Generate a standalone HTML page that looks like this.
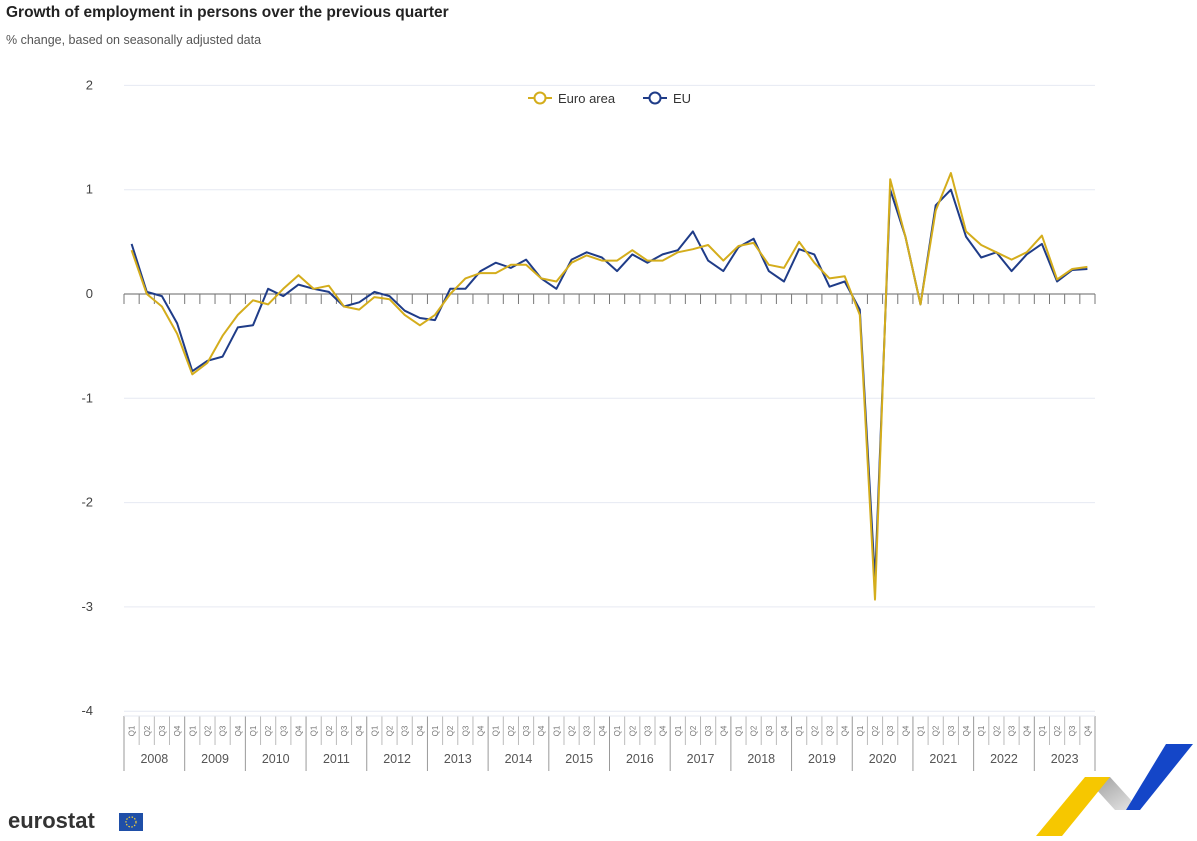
<!DOCTYPE html><html><head><meta charset="utf-8"><style>
body{margin:0;background:#fff;font-family:"Liberation Sans",sans-serif;}
</style></head><body>
<svg width="1197" height="836" xmlns="http://www.w3.org/2000/svg" font-family="Liberation Sans, sans-serif" id="s">
<defs><linearGradient id="gr" x1="0" y1="0" x2="1" y2="1"><stop offset="0" stop-color="#9a9a9a"/><stop offset="1" stop-color="#e8e8e8"/></linearGradient></defs>
<text x="6" y="17" font-size="15.5" font-weight="bold" fill="#222">Growth of employment in persons over the previous quarter</text>
<text x="6" y="44" font-size="12.5" fill="#555">% change, based on seasonally adjusted data</text>
<g id="grid"></g>
<g id="lines"></g>
<g font-size="13" fill="#333">
<line x1="528" y1="98" x2="552" y2="98" stroke="#d4ad1c" stroke-width="2"/><circle cx="540" cy="98" r="5.5" fill="#fff" stroke="#d4ad1c" stroke-width="2"/>
<text x="558" y="103">Euro area</text>
<line x1="643" y1="98" x2="667" y2="98" stroke="#1f3c88" stroke-width="2"/><circle cx="655" cy="98" r="5.5" fill="#fff" stroke="#1f3c88" stroke-width="2"/>
<text x="673" y="103">EU</text>
</g>
<text x="8" y="828" font-size="22" font-weight="bold" fill="#333">eurostat</text>
<rect x="119" y="813" width="24" height="18" fill="#1f4fa8"/>
<circle cx="131" cy="822" r="5" fill="none" stroke="#f3d23a" stroke-width="1.2" stroke-dasharray="1.5 1.5"/>
<polygon points="1085,777 1110,777 1140,810 1115,810" fill="url(#gr)"/>
<polygon points="1036,836 1085,777 1110,777 1062,836" fill="#f6c700"/>
<polygon points="1126,810 1140,810 1193,744 1166,744" fill="#1446c8"/>
</svg>
<script>
var ea=[0.42,0.0,-0.12,-0.38,-0.77,-0.66,-0.4,-0.2,-0.06,-0.1,0.05,0.18,0.05,0.08,-0.12,-0.15,-0.03,-0.05,-0.2,-0.3,-0.2,0.0,0.15,0.2,0.2,0.28,0.28,0.15,0.12,0.3,0.37,0.32,0.32,0.42,0.32,0.32,0.4,0.43,0.47,0.32,0.46,0.49,0.28,0.25,0.5,0.3,0.15,0.17,-0.2,-2.93,1.1,0.55,-0.1,0.8,1.16,0.6,0.47,0.4,0.33,0.4,0.56,0.14,0.24,0.26];
var eu=[0.48,0.02,-0.02,-0.28,-0.74,-0.64,-0.6,-0.32,-0.3,0.05,-0.02,0.09,0.05,0.02,-0.12,-0.08,0.02,-0.02,-0.16,-0.23,-0.25,0.05,0.05,0.22,0.3,0.25,0.33,0.15,0.05,0.33,0.4,0.35,0.22,0.38,0.3,0.38,0.42,0.6,0.32,0.22,0.45,0.53,0.22,0.12,0.43,0.38,0.07,0.12,-0.15,-2.75,1.0,0.55,-0.1,0.85,1.0,0.55,0.35,0.4,0.22,0.38,0.48,0.12,0.23,0.24];
var L=124,R=1095,W=(R-L)/64,Y0=294,U=104.3;
function y(v){return Y0-v*U}function x(i){return L+(i+0.5)*W}
var g='';
for(var v=2;v>=-4;v--){if(v!=0)g+='<line x1="'+L+'" x2="'+R+'" y1="'+y(v)+'" y2="'+y(v)+'" stroke="#e6e9f2"/>';
g+='<text x="93" y="'+(y(v)+4)+'" font-size="13" fill="#444" text-anchor="end">'+v+'</text>';}
g+='<line x1="'+L+'" x2="'+R+'" y1="'+Y0+'" y2="'+Y0+'" stroke="#666"/>';
for(var i=0;i<=64;i++){var xx=L+i*W;g+='<line x1="'+xx+'" x2="'+xx+'" y1="'+Y0+'" y2="'+(Y0+10)+'" stroke="#777"/>';
var yr=i%4==0;g+='<line x1="'+xx+'" x2="'+xx+'" y1="716" y2="'+(yr?771:745)+'" stroke="'+(yr?'#999':'#bbb')+'"/>';
if(i<64){var cx=x(i);g+='<text transform="translate('+(cx+3)+',731) rotate(-90)" font-size="8" fill="#777" text-anchor="middle">Q'+(i%4+1)+'</text>';}
if(i<64&&yr)g+='<text x="'+(xx+2*W)+'" y="763" font-size="12.5" fill="#555" text-anchor="middle">'+(2008+i/4)+'</text>';}
g+='<line x1="'+L+'" x2="'+R+'" y1="716" y2="716" stroke="#e6e9f2"/>';
document.getElementById('grid').innerHTML=g;
function p(d,c){return '<polyline fill="none" stroke="'+c+'" stroke-width="2" stroke-linejoin="round" points="'+d.map(function(v,i){return x(i).toFixed(1)+','+y(v).toFixed(1)}).join(' ')+'"/>'}
document.getElementById('lines').innerHTML=p(eu,'#1f3c88')+p(ea,'#d4ad1c');
</script>
</body></html>
